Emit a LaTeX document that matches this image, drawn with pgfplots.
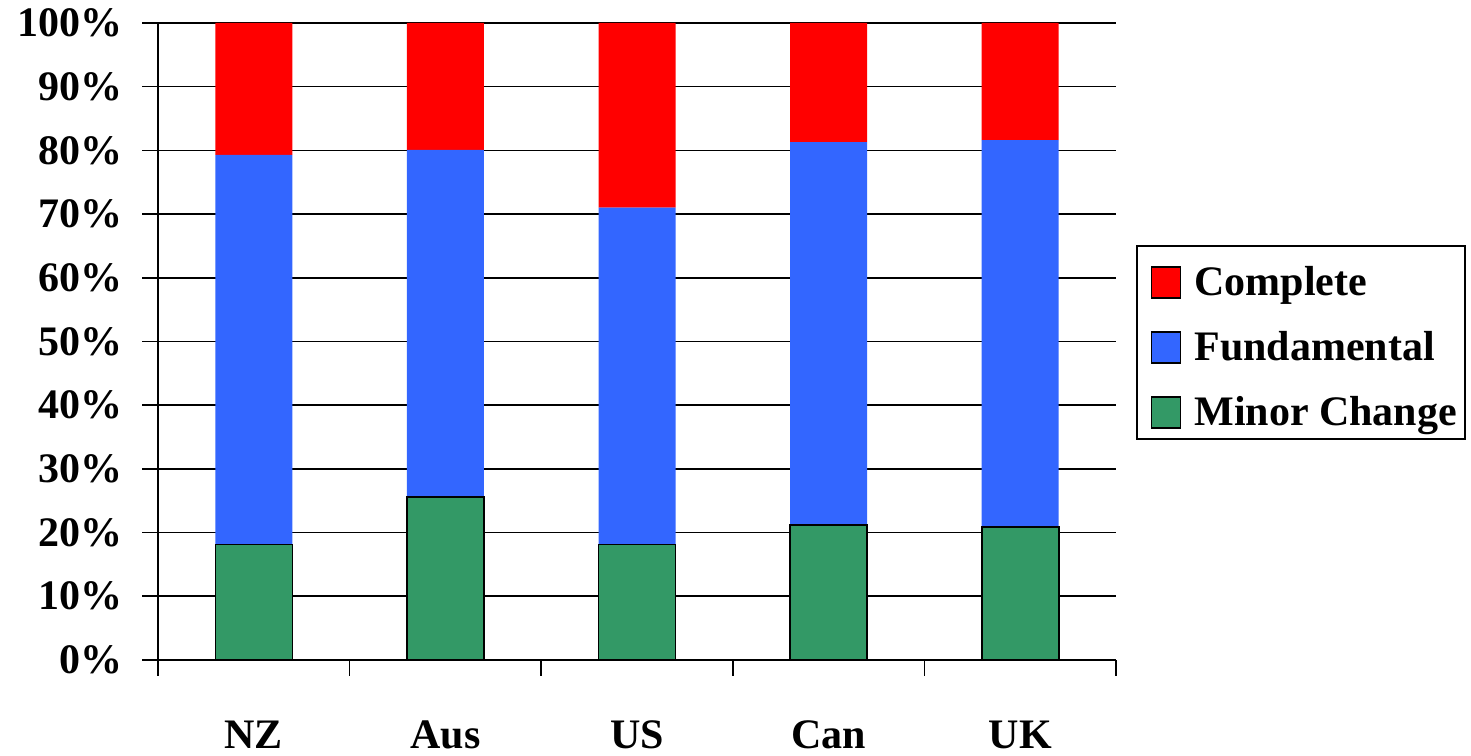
\documentclass[border=0pt]{standalone}
\usepackage{pgfplots}
\pgfplotsset{compat=1.18}
\usepackage{fontspec}
\setmainfont{Liberation Serif}
\definecolor{cred}{HTML}{FF0000}
\definecolor{cblue}{HTML}{3366FF}
\definecolor{cgreen}{HTML}{339966}
\begin{document}
\begin{tikzpicture}
\path (0,0) rectangle (735.5pt,377.5pt);
\begin{axis}[
  at={(79pt,47.5pt)}, anchor=south west,
  scale only axis, width=479pt, height=318.5pt,
  ybar stacked, bar width=38.5pt,
  xmin=-0.5, xmax=4.5, ymin=0, ymax=100,
  xtick={-0.5,0.5,...,4.5},
  xticklabels={NZ,Aus,US,Can,UK,{}},
  xticklabel style={xshift=47.9pt, yshift=-19pt},
  ytick={0,10,...,100},
  yticklabel={\pgfmathprintnumber{\tick}\%},
  yticklabel style={xshift=-6pt},
  /pgf/number format/assume math mode=true,
  ticklabel style={font=\fontsize{21}{25}\selectfont\bfseries},
  ymajorgrids, grid style={black, line width=0.8pt},
  axis x line=bottom, axis y line=left,
  axis line style={-, line width=0.8pt, black},
  tick align=outside, major tick length=8pt,
  tick style={black, line width=0.8pt},
  legend style={at={(1.0209,0.6515)}, anchor=north west,
    draw=black, line width=0.8pt,
    font=\fontsize{21}{25}\selectfont\bfseries,
    nodes={text height=21pt, text depth=2.5pt, inner sep=2pt},
    cells={anchor=base west},
    row sep=5pt, column sep=4.5pt, inner sep=2pt},
  reverse legend,
  legend image code/.code={\path (0pt,0pt) (19.5pt,0pt); \draw[#1] (5pt,-1pt) rectangle (19.5pt,14.5pt);},
]
\addplot[fill=cgreen, draw=black, line width=0.8pt] coordinates {(0,18.1) (1,25.6) (2,18.1) (3,21.2) (4,20.9)};
\addplot[fill=cblue, draw=none] coordinates {(0,61.2) (1,54.5) (2,52.9) (3,60.1) (4,60.7)};
\addplot[fill=cred, draw=none] coordinates {(0,20.7) (1,19.9) (2,29.0) (3,18.7) (4,18.4)};
\legend{Minor Change,Fundamental,Complete}
\end{axis}
\end{tikzpicture}
\end{document}
